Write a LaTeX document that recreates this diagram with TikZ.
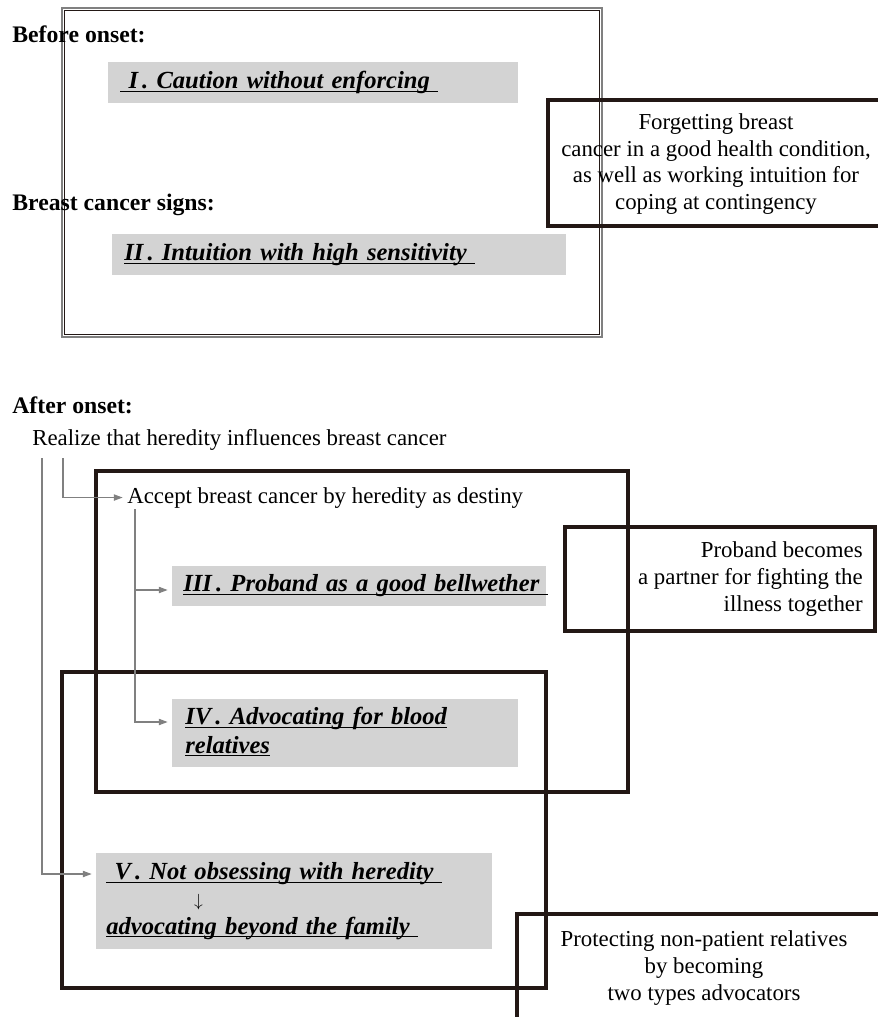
\documentclass[tikz,border=0pt]{standalone}
\usepackage{fontspec}
\setmainfont{Liberation Serif}
\usetikzlibrary{arrows.meta,calc}

\definecolor{ink}{RGB}{35,24,21}
\definecolor{shade}{RGB}{211,211,211}
\newcommand{\stagetext}[1]{\strut$\underline{\smash{\hbox{#1}}}$}

\tikzset{
    head/.style={inner sep=0, anchor=base west, font=\fontsize{13.5pt}{16pt}\selectfont\bfseries},
    plain/.style={inner sep=0, font=\fontsize{13pt}{15.3pt}\selectfont},
    stagebox/.style={fill=shade, inner ysep=0, anchor=north west, align=left,
        font=\fontsize{14pt}{16pt}\selectfont\bfseries\itshape},
    frame/.style={draw=ink, line width=1.8pt},
    flow/.style={draw=gray, line width=0.6pt, -{Triangle[length=5pt,width=3.6pt]}, shorten >=2.5pt},
}

\begin{document}
\begin{tikzpicture}[x=0.02cm, y=-0.02cm]
    %%Background
    \useasboundingbox (0,0) rectangle (878,1017);
    %% before onset
    \draw[gray, line width=1.4pt] (62,8) rectangle (602,337);
    \draw[ink, line width=0.5pt] (64.5,10.5) rectangle (599.5,334.5);
    \node[head] (before) at (12,43) {Before onset:};
    \node[stagebox, inner xsep=0.24cm, text width=7.72cm, minimum height=0.82cm] (stageI) at (108,62)
        {\stagetext{ I\,. Caution without enforcing }};
    \node[head] (signs) at (12,210) {Breast cancer signs:};
    \node[stagebox, inner xsep=0.24cm, text width=8.6cm, minimum height=0.82cm] (stageII) at (112,234)
        {\stagetext{II\,. Intuition with high sensitivity }};
    \draw[frame] (548,100) rectangle (884,226);
    \node[plain, align=center] (forget) at (716,164)
        {Forgetting breast\\ cancer in a good health condition,\\ as well as working intuition for\\ coping at contingency};

    %% after onset
    \node[head] (after) at (12,413) {After onset:};
    \node[plain, anchor=base west] (realize) at (32,445) {Realize that heredity influences breast cancer};
    \node[plain, anchor=base west] (accept) at (127,503) {Accept breast cancer by heredity as destiny};

    \draw[frame] (96,471) rectangle (628,792);
    \draw[frame] (62,672) rectangle (546,988);
    \draw[frame] (565,527) rectangle (875,631);
    \draw[frame] (517,914) rectangle (884,1030);

    \node[stagebox, inner xsep=0.22cm, text width=7.04cm, minimum height=0.8cm] (stageIII) at (172,566)
        {\stagetext{III\,. Proband as a good bellwether }};
    \node[stagebox, inner xsep=0.26cm, text width=6.4cm, minimum height=1.36cm] (stageIV) at (172,699)
        {\stagetext{IV\,. Advocating for blood}\\ \stagetext{relatives}};
    \node[stagebox, inner xsep=0.2cm, text width=7.52cm, minimum height=1.92cm,
        font=\fontsize{14pt}{15.6pt}\selectfont\bfseries\itshape] (stageV) at (96,853)
        {\stagetext{ V\,. Not obsessing with heredity }\\
         \hspace*{50pt}{\normalfont\fontsize{10pt}{10pt}\selectfont$\downarrow$}\\
         \stagetext{advocating beyond the family }};

    \node[plain, align=right, anchor=east] (partner) at (863,579)
        {Proband becomes\\ a partner for fighting the\\ illness together};
    \node[plain, align=center] (protect) at (704,968)
        {Protecting non-patient relatives\\ by becoming\\ two types advocators};

    %% connectors
    \coordinate (realize-a) at ($(realize.south west)+(10,8)$);
    \coordinate (realize-b) at ($(realize.south west)+(31,8)$);
    \coordinate (accept-a) at ($(accept.south west)+(8,1)$);
    \draw[flow] (realize-b) |- (accept.west);
    \draw[flow] (realize-a) |- ($(stageV.north west)+(0,21)$);
    \draw[flow] (accept-a) |- ($(stageIII.north west)+(0,24)$);
    \draw[flow] (accept-a) |- ($(stageIV.north west)+(0,23)$);
\end{tikzpicture}
\end{document}
